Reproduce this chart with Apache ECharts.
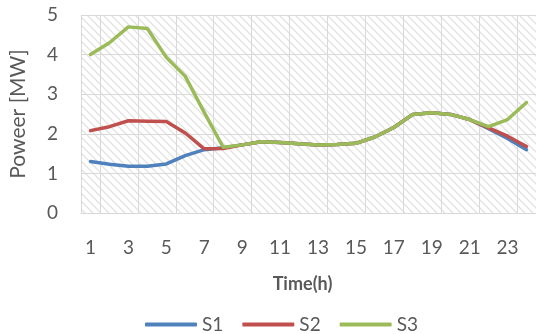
<!DOCTYPE html>
<html>
<head>
<meta charset="utf-8">
<script src="https://cdn.jsdelivr.net/npm/echarts@6/dist/echarts.min.js"></script>
<style>
  html, body { margin: 0; padding: 0; background: #ffffff; }
  #chart { width: 536px; height: 334px; }
</style>
</head>
<body>
<div id="chart"></div>
<script>
// Hourly power of three scenarios
var hours = ['1','2','3','4','5','6','7','8','9','10','11','12','13','14','15','16','17','18','19','20','21','22','23','24'];
var s1 = [1.30, 1.23, 1.18, 1.18, 1.24, 1.45, 1.60, 1.65, 1.72, 1.80, 1.78, 1.75, 1.72, 1.73, 1.76, 1.92, 2.16, 2.49, 2.53, 2.49, 2.36, 2.13, 1.88, 1.60];
var s2 = [2.08, 2.18, 2.33, 2.32, 2.31, 2.02, 1.62, 1.63, 1.72, 1.80, 1.78, 1.75, 1.72, 1.73, 1.76, 1.92, 2.16, 2.49, 2.53, 2.49, 2.36, 2.15, 1.94, 1.68];
var s3 = [4.00, 4.30, 4.70, 4.66, 3.93, 3.45, 2.54, 1.66, 1.72, 1.80, 1.78, 1.75, 1.72, 1.73, 1.76, 1.92, 2.16, 2.49, 2.53, 2.49, 2.36, 2.18, 2.36, 2.79];
var seriesNames = ['S1', 'S2', 'S3'];
var seriesColors = ['#4F81BD', '#C0504D', '#9BBB59'];

// Diagonal hatch tile for the plot background
function hatchTile() {
  var c = document.createElement('canvas');
  c.width = 8; c.height = 8;
  var g = c.getContext('2d');
  g.fillStyle = '#ffffff';
  g.fillRect(0, 0, 8, 8);
  g.strokeStyle = '#e2e2e2';
  g.lineWidth = 1.3;
  g.beginPath();
  g.moveTo(-1, -1); g.lineTo(9, 9);
  g.moveTo(-1, 7); g.lineTo(1, 9);
  g.moveTo(7, -1); g.lineTo(9, 1);
  g.stroke();
  return c;
}

var font = 'Lato, "Open Sans", sans-serif';
var chart = echarts.init(document.getElementById('chart'), null, { renderer: 'canvas' });
var data = [s1, s2, s3];

chart.setOption({
  animation: false,
  backgroundColor: '#ffffff',
  grid: {
    left: 74, right: 0, top: 15, bottom: 121,
    show: true,
    borderWidth: 0,
    backgroundColor: { image: hatchTile(), repeat: 'repeat' }
  },
  legend: {
    data: seriesNames,
    left: 140, top: 310,
    itemWidth: 52, itemHeight: 4, itemGap: 19,
    icon: 'roundRect',
    textStyle: { fontFamily: font, fontSize: 19, color: '#595959' }
  },
  xAxis: {
    type: 'category',
    data: hours,
    boundaryGap: true,
    name: 'Time(h)',
    nameLocation: 'middle',
    nameGap: 62,
    nameTextStyle: { fontFamily: font, fontSize: 18, fontWeight: 'bold', color: '#595959', padding: [0, 12, 0, 0] },
    axisLine: { show: true, lineStyle: { color: '#d9d9d9', width: 1 } },
    axisTick: { show: false },
    axisLabel: { interval: 1, margin: 25, fontFamily: font, fontSize: 19, color: '#595959' },
    splitLine: {
      show: true,
      interval: function (idx) { return idx % 2 === 1 || idx === 0; },
      lineStyle: { color: '#d9d9d9', width: 1 }
    }
  },
  yAxis: {
    type: 'value',
    min: 0, max: 5, interval: 1,
    name: 'Poweer [MW]',
    nameLocation: 'middle',
    nameGap: 52,
    nameRotate: 90,
    nameTextStyle: { fontFamily: font, fontSize: 21, color: '#595959' },
    axisLine: { show: false },
    axisTick: { show: false },
    axisLabel: { margin: 23, fontFamily: font, fontSize: 19, color: '#595959' },
    splitLine: { show: true, lineStyle: { color: '#d9d9d9', width: 1 } }
  },
  series: seriesNames.map(function (n, i) {
    return {
      name: n,
      type: 'line',
      data: data[i],
      color: seriesColors[i],
      showSymbol: false,
      symbol: 'none',
      smooth: false,
      lineStyle: { width: 3.5, cap: 'round', join: 'round' }
    };
  })
});
</script>
</body>
</html>
